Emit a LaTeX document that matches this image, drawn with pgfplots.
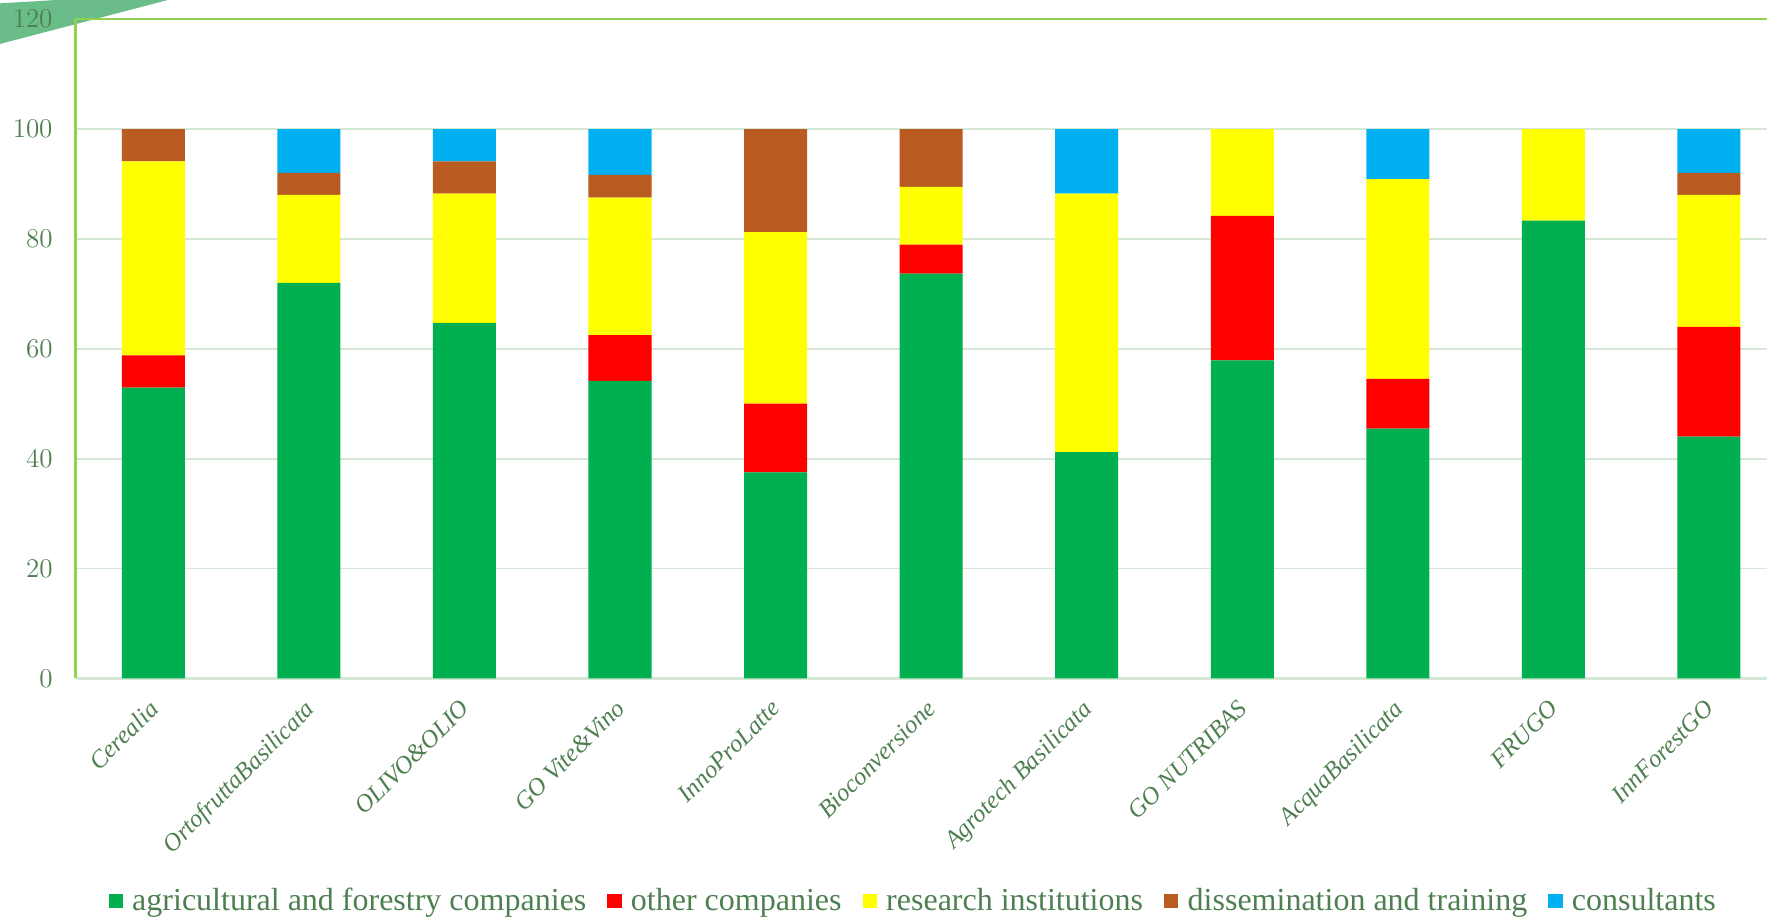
\documentclass[border=0pt]{standalone}
\usepackage{fontspec}
\setmainfont{Liberation Serif}
\usepackage{pgfplots}
\usepackage{pgfplotstable}
\pgfplotsset{compat=1.18}
\definecolor{cgreen}{HTML}{00AF50}
\definecolor{cred}{HTML}{FF0000}
\definecolor{cyellow}{HTML}{FFFF00}
\definecolor{cbrown}{HTML}{BA5B22}
\definecolor{cblue}{HTML}{00B0F0}
\definecolor{txt}{HTML}{4E7F50}
\definecolor{gridc}{HTML}{D5E8D5}
\definecolor{axc}{HTML}{92D050}
\definecolor{swoosh}{HTML}{6ABD88}
\pgfplotstableread{
x agri other research dissem consult
0 52.94 5.88 35.29 5.88 0
1 72 0 16 4 8
2 64.71 0 23.53 5.88 5.88
3 54.17 8.33 25 4.17 8.33
4 37.5 12.5 31.25 18.75 0
5 73.68 5.26 10.53 10.53 0
6 41.18 0 47.06 0 11.76
7 57.89 26.32 15.79 0 0
8 45.45 9.09 36.36 0 9.09
9 83.33 0 16.67 0 0
10 44 20 24 4 8
}\datatable
\begin{document}
\begin{tikzpicture}
\fill[swoosh] (-33.5pt,299.5pt) -- (-8.5pt,301pt) -- (41pt,301pt) -- (-33.5pt,281.5pt) -- cycle;
\begin{axis}[at={(0pt,0pt)}, anchor=south west, scale only axis,
  width=750.5pt, height=292.5pt,
  ybar stacked, bar width=0.405,
  xmin=-0.5, xmax=10.373, ymin=0, ymax=120,
  ytick={0,20,...,120}, xtick={0,...,10},
  xticklabels={Cerealia, OrtofruttaBasilicata, OLIVO\&OLIO, GO Vite\&Vino, InnoProLatte, Bioconversione, Agrotech Basilicata, GO NUTRIBAS, AcquaBasilicata, FRUGO, InnForestGO},
  axis x line*=bottom, axis y line*=left,
  x axis line style={draw=gridc, line width=1.2pt},
  y axis line style={draw=axc, line width=1pt},
  major tick length=0pt,
  ymajorgrids, grid style={draw=gridc, line width=0.8pt},
  yticklabel style={font=\fontsize{11.5}{12}\selectfont, text=txt, inner sep=0pt, anchor=east, xshift=-10pt},
  xticklabel style={font=\itshape\fontsize{11}{12}\selectfont, text=txt, rotate=45, anchor=north east, inner sep=0pt, xshift=-7.9pt, yshift=-4.4pt},
  legend style={at={(0.496,-0.338)}, anchor=center, legend columns=5, draw=none, fill=none,
    font=\fontsize{14.2}{16}\selectfont, text=txt, inner sep=0pt,
    /tikz/every even column/.append style={column sep=7.3pt}},
  legend image code/.code={\fill[#1] (0pt,-3.2pt) rectangle (6.4pt,3.2pt); \path (8.5pt,0pt);},
]
\addplot[fill=cgreen, draw=none] table[x=x,y=agri]{\datatable};
\addplot[fill=cred, draw=none] table[x=x,y=other]{\datatable};
\addplot[fill=cyellow, draw=none] table[x=x,y=research]{\datatable};
\addplot[fill=cbrown, draw=none] table[x=x,y=dissem]{\datatable};
\addplot[fill=cblue, draw=none] table[x=x,y=consult]{\datatable};
\legend{agricultural and forestry companies, other companies, research institutions, dissemination and training, consultants}
\end{axis}
\draw[axc, line width=1pt] (0pt,292.5pt) -- (750.5pt,292.5pt);
\pgfresetboundingbox
\path[use as bounding box] (-33.5pt,-106pt) rectangle (750.5pt,301pt);
\end{tikzpicture}
\end{document}
